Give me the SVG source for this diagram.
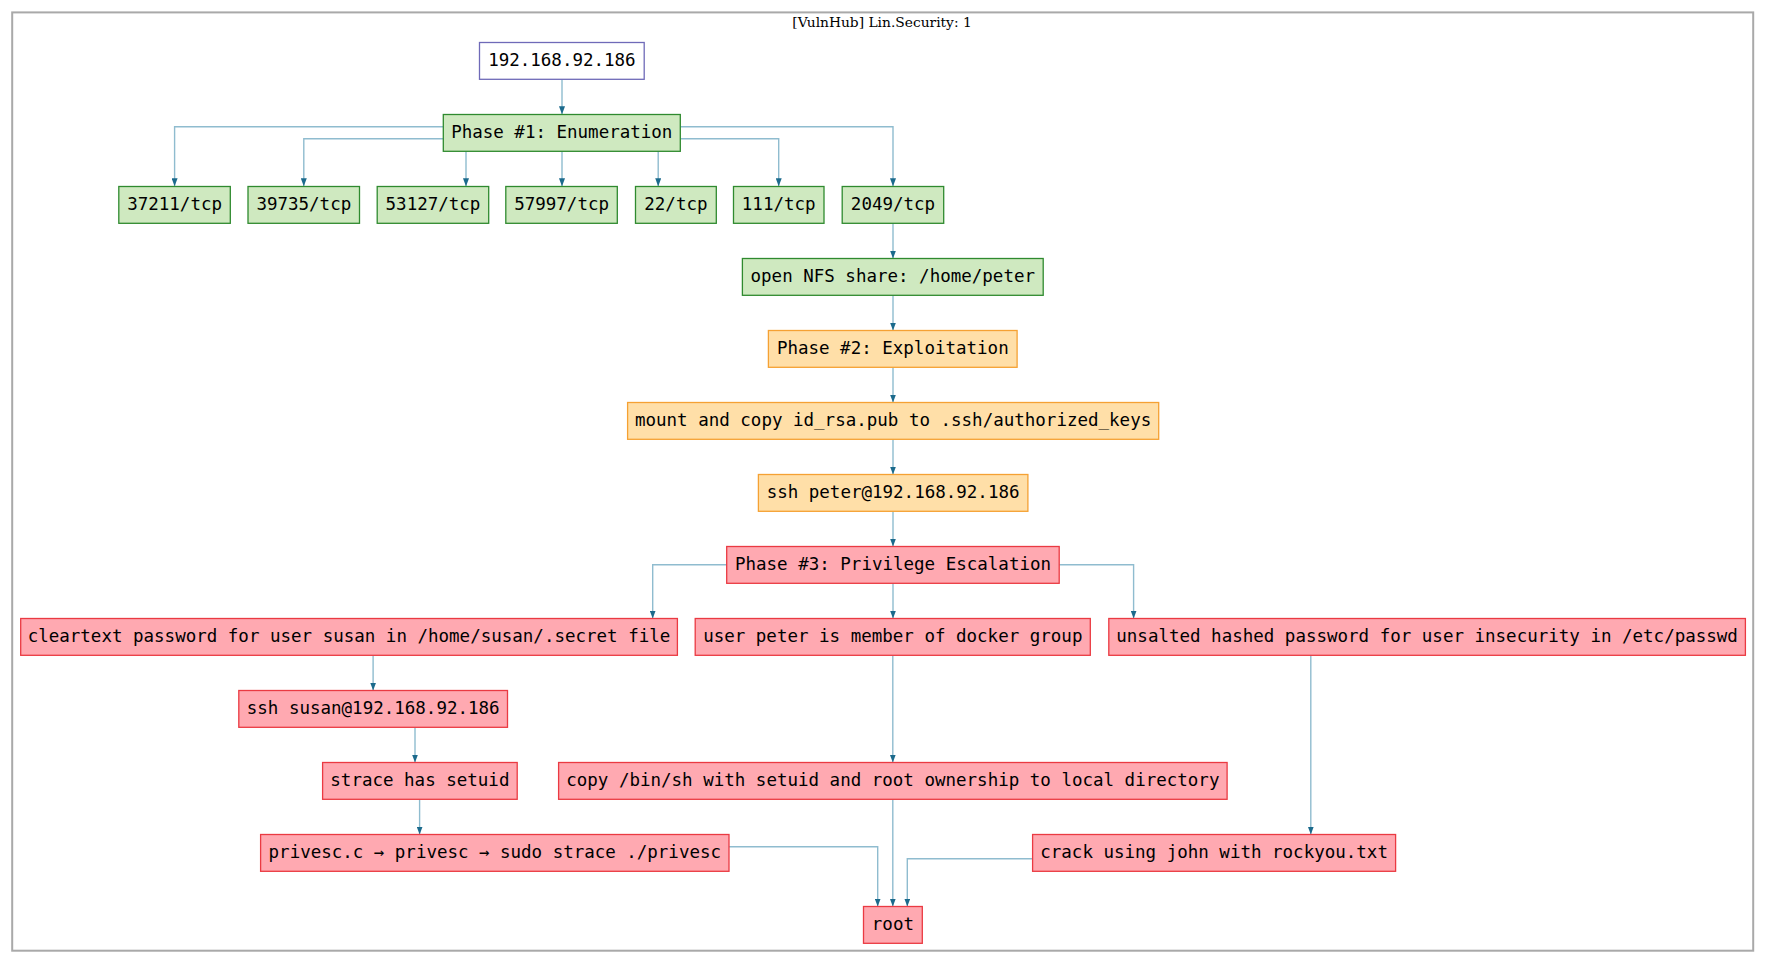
<svg xmlns="http://www.w3.org/2000/svg" width="1765" height="963" viewBox="0 0 1765 963">
<style>
.n text{font-family:"DejaVu Sans Mono","Liberation Mono",monospace;font-size:17.5px;fill:#000;text-anchor:middle}
.g rect{fill:#cfe9c0;stroke:#2f8a2f;stroke-width:1.3}
.o rect{fill:#ffdfa8;stroke:#f5a133;stroke-width:1.3}
.r rect{fill:#ffa9b1;stroke:#ea3a42;stroke-width:1.3}
.ip rect{fill:#fff;stroke:#6f6ab8;stroke-width:1.3}
#edges path{fill:none;stroke:#8fbccf;stroke-width:1.4;marker-end:url(#ah)}
.title{font-family:"DejaVu Serif","Liberation Serif",serif;font-size:13.8px;fill:#000;text-anchor:middle}
</style>
<defs>
<marker id="ah" markerUnits="userSpaceOnUse" markerWidth="8" markerHeight="6" refX="8" refY="3" orient="auto">
<path d="M0,0 L8,3 L0,6 z" fill="#1b6a8c"/>
</marker>
</defs>
<rect x="0" y="0" width="1765" height="963" fill="#fff"/>
<rect x="12.2" y="12.4" width="1741" height="938.3" fill="none" stroke="#a9a9a9" stroke-width="2"/>
<text class="title" x="882" y="26.5">[VulnHub] Lin.Security: 1</text>

<g id="edges">
<path d="M562,79.3 V114.3"/>
<path d="M443.3,126.7 H174.6 V186.3"/>
<path d="M443.3,138.7 H303.8 V186.3"/>
<path d="M466,151.3 V186.3"/>
<path d="M562,151.3 V186.3"/>
<path d="M658.2,151.3 V186.3"/>
<path d="M680.3,138.7 H778.7 V186.3"/>
<path d="M680.3,126.7 H893 V186.3"/>
<path d="M893,223.3 V258.5"/>
<path d="M893,295.3 V330.5"/>
<path d="M893,367.3 V402.5"/>
<path d="M893,439.3 V474.5"/>
<path d="M893,511.3 V546.5"/>
<path d="M726.7,564.7 H652.7 V618.5"/>
<path d="M893,583.3 V618.5"/>
<path d="M1059.2,564.7 H1133.6 V618.5"/>
<path d="M373.1,655.3 V690.5"/>
<path d="M415,727.3 V762.5"/>
<path d="M419.6,799.3 V834.5"/>
<path d="M892.8,655.3 V762.5"/>
<path d="M1310.8,655.3 V834.5"/>
<path d="M729,846.7 H877.7 V906.5"/>
<path d="M892.8,799.3 V906.5"/>
<path d="M1032.6,858.7 H907.3 V906.5"/>
</g>

<g id="n-ip" class="n ip"><rect x="479.5" y="42.5" width="164.7" height="36.8"/><text x="561.9" y="66">192.168.92.186</text></g>
<g id="n-phase1" class="n g"><rect x="443.3" y="114.5" width="237" height="36.8"/><text x="561.8" y="138">Phase #1: Enumeration</text></g>
<g id="n-p37211" class="n g"><rect x="118.8" y="186.5" width="111.5" height="36.8"/><text x="174.6" y="210">37211/tcp</text></g>
<g id="n-p39735" class="n g"><rect x="248" y="186.5" width="111.5" height="36.8"/><text x="303.8" y="210">39735/tcp</text></g>
<g id="n-p53127" class="n g"><rect x="377.2" y="186.5" width="111.5" height="36.8"/><text x="433" y="210">53127/tcp</text></g>
<g id="n-p57997" class="n g"><rect x="505.8" y="186.5" width="111.5" height="36.8"/><text x="561.6" y="210">57997/tcp</text></g>
<g id="n-p22" class="n g"><rect x="635.5" y="186.5" width="80.8" height="36.8"/><text x="675.9" y="210">22/tcp</text></g>
<g id="n-p111" class="n g"><rect x="733.5" y="186.5" width="90.5" height="36.8"/><text x="778.7" y="210">111/tcp</text></g>
<g id="n-p2049" class="n g"><rect x="842.2" y="186.5" width="101.5" height="36.8"/><text x="893" y="210">2049/tcp</text></g>
<g id="n-nfs" class="n g"><rect x="742.4" y="258.5" width="300.8" height="36.8"/><text x="892.8" y="282">open NFS share: /home/peter</text></g>
<g id="n-phase2" class="n o"><rect x="768.4" y="330.5" width="248.7" height="36.8"/><text x="892.8" y="354">Phase #2: Exploitation</text></g>
<g id="n-mount" class="n o"><rect x="627.6" y="402.5" width="531.1" height="36.8"/><text x="893.1" y="426">mount and copy id_rsa.pub to .ssh/authorized_keys</text></g>
<g id="n-sshpeter" class="n o"><rect x="758.4" y="474.5" width="269.5" height="36.8"/><text x="893.1" y="498">ssh peter@192.168.92.186</text></g>
<g id="n-phase3" class="n r"><rect x="726.7" y="546.5" width="332.5" height="36.8"/><text x="893" y="570">Phase #3: Privilege Escalation</text></g>
<g id="n-cleartext" class="n r"><rect x="20.7" y="618.5" width="656.7" height="36.8"/><text x="349" y="642">cleartext password for user susan in /home/susan/.secret file</text></g>
<g id="n-docker" class="n r"><rect x="695.2" y="618.5" width="395.1" height="36.8"/><text x="892.8" y="642">user peter is member of docker group</text></g>
<g id="n-unsalted" class="n r"><rect x="1108.8" y="618.5" width="636.6" height="36.8"/><text x="1427.1" y="642">unsalted hashed password for user insecurity in /etc/passwd</text></g>
<g id="n-sshsusan" class="n r"><rect x="238.8" y="690.5" width="268.7" height="36.8"/><text x="373.2" y="714">ssh susan@192.168.92.186</text></g>
<g id="n-strace" class="n r"><rect x="322.6" y="762.5" width="194.6" height="36.8"/><text x="419.9" y="786">strace has setuid</text></g>
<g id="n-copy" class="n r"><rect x="558.6" y="762.5" width="668.5" height="36.8"/><text x="892.85" y="786">copy /bin/sh with setuid and root ownership to local directory</text></g>
<g id="n-privesc" class="n r"><rect x="260.6" y="834.5" width="468.4" height="36.8"/><text x="268.6" y="858" style="text-anchor:start" textLength="452.4" lengthAdjust="spacing">privesc.c → privesc → sudo strace ./privesc</text></g>
<g id="n-crack" class="n r"><rect x="1032.6" y="834.5" width="363" height="36.8"/><text x="1214.1" y="858">crack using john with rockyou.txt</text></g>
<g id="n-root" class="n r"><rect x="863.5" y="906.5" width="58.8" height="36.8"/><text x="892.9" y="930">root</text></g>
</svg>
